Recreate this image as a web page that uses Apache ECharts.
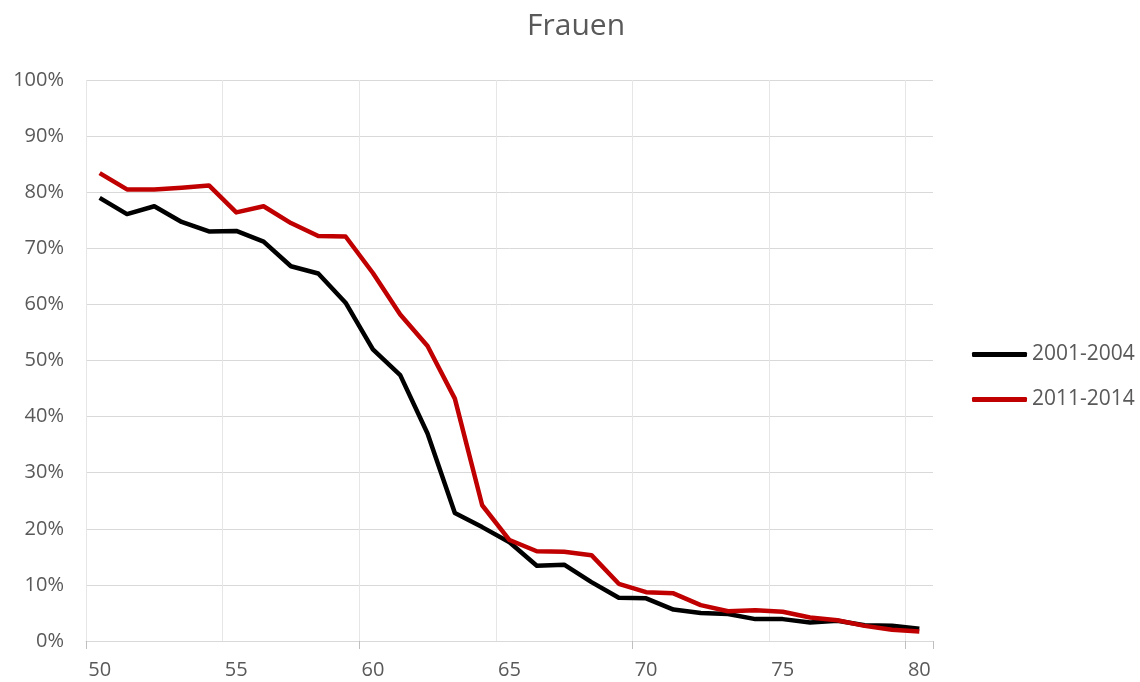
<!DOCTYPE html>
<html>
<head>
<meta charset="utf-8">
<script src="https://cdn.jsdelivr.net/npm/echarts@6/dist/echarts.min.js"></script>
<style>
html,body{margin:0;padding:0;background:#fff;}
#chart{width:1140px;height:682px;}
</style>
</head>
<body>
<div id="chart"></div>
<script>
const title = 'Frauen';
const ages = ['50','51','52','53','54','55','56','57','58','59','60','61','62','63','64','65','66','67','68','69','70','71','72','73','74','75','76','77','78','79','80'];
const seriesNames = ['2001-2004', '2011-2014'];
const values2001 = [0.790,0.761,0.775,0.747,0.730,0.731,0.712,0.668,0.655,0.603,0.520,0.474,0.370,0.228,0.203,0.176,0.134,0.136,0.105,0.077,0.076,0.056,0.050,0.048,0.039,0.039,0.033,0.036,0.028,0.027,0.022];
const values2011 = [0.834,0.805,0.805,0.808,0.812,0.764,0.775,0.745,0.722,0.721,0.656,0.582,0.526,0.432,0.242,0.180,0.160,0.159,0.153,0.102,0.087,0.085,0.064,0.053,0.055,0.052,0.042,0.037,0.027,0.020,0.017];
const colors = ['#000000', '#c00000'];

const font = '"Open Sans", "Noto Sans", sans-serif';
const textColor = '#595959';
const legendTops = [342, 387];
const chart = echarts.init(document.getElementById('chart'));
chart.setOption({
  animation: false,
  backgroundColor: '#ffffff',
  title: {
    text: title,
    left: 522,
    top: 6,
    textStyle: {fontFamily: font, fontSize: 30, fontWeight: 'normal', color: textColor}
  },
  legend: seriesNames.map((n, i) => ({
    orient: 'vertical',
    left: 972,
    top: legendTops[i],
    padding: 0,
    icon: 'roundRect',
    itemWidth: 55,
    itemHeight: 5,
    data: [{name: n, icon: 'roundRect', itemStyle: {color: colors[i]}}],
    textStyle: {fontFamily: font, fontSize: 21, color: textColor, lineHeight: 25}
  })),
  grid: {left: 86, top: 80, right: 207, bottom: 41, containLabel: false},
  xAxis: {
    type: 'category',
    data: ages,
    boundaryGap: true,
    axisLine: {show: true, lineStyle: {color: '#d9d9d9', width: 1}},
    axisTick: {show: true, interval: (idx) => idx % 10 === 0 && idx <= 30, length: 8, lineStyle: {color: '#bfbfbf'}},
    axisLabel: {interval: 4, fontFamily: font, fontSize: 20, color: textColor, margin: 19},
    splitLine: {show: true, showMaxLine: false, interval: (idx) => idx % 5 === 0 && idx <= 30, lineStyle: {color: '#e6e6e6', width: 1}}
  },
  yAxis: {
    type: 'value',
    min: 0, max: 1, interval: 0.1,
    axisLine: {show: false},
    axisTick: {show: false},
    axisLabel: {
      fontFamily: font, fontSize: 20, color: textColor, margin: 22,
      formatter: v => Math.round(v * 100) + '%'
    },
    splitLine: {lineStyle: {color: '#d9d9d9', width: 1}}
  },
  series: [
    {
      name: seriesNames[0], type: 'line', data: values2001,
      symbol: 'none', color: colors[0],
      lineStyle: {width: 4.5, color: colors[0], join: 'round'}
    },
    {
      name: seriesNames[1], type: 'line', data: values2011,
      symbol: 'none', color: colors[1],
      lineStyle: {width: 4.5, color: colors[1], join: 'round'}
    }
  ]
});
</script>
</body>
</html>
